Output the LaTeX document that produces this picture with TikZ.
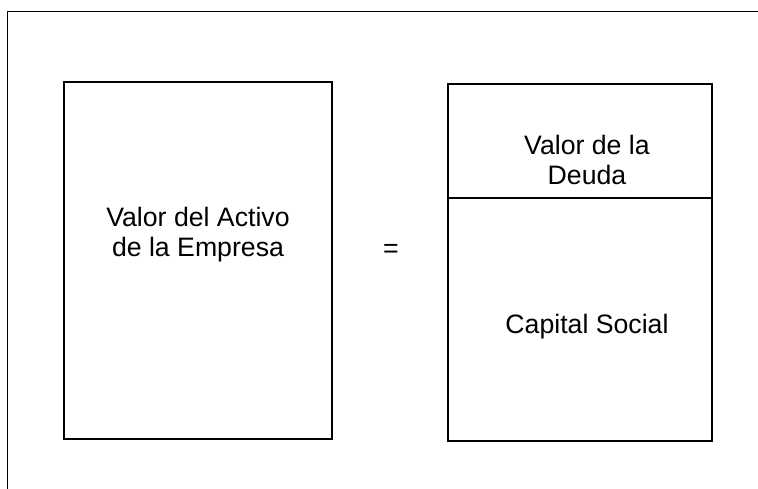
\documentclass[tikz,border=0pt]{standalone}
\usepackage{fontspec}
\setmainfont{Liberation Sans}
\begin{document}
\begin{tikzpicture}
  [x=0.75pt,y=-0.75pt,
    caja/.style={draw,line width=1.1pt},
    texto/.style={align=center,inner sep=0pt,
    font=\fontsize{20}{22.5}\selectfont}]
  \useasboundingbox (0,0) rectangle (758,489);
  % marco
  \draw[line width=1.4pt] (7.5,489) -- (7.5,11.5) -- (758,11.5);
  % cajas
  \draw[caja] (64,82) rectangle (332,439);
  \draw[caja] (448,84) rectangle (712,441);
  \draw[caja] (448,198) -- (712,198);
  % textos
  \node[texto] (activo) at (198,235) {Valor del Activo\\de la Empresa};
  \node[texto] (igual) at (391,251) {=};
  \node[texto] (deuda) at (587,160) {Valor de la\\Deuda};
  \node[texto] (capital) at (587,327) {Capital Social};
\end{tikzpicture}
\end{document}
